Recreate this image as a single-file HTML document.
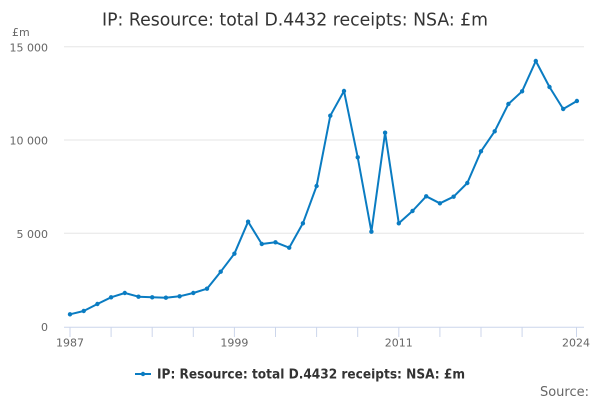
<!DOCTYPE html>
<html>
<head>
<meta charset="utf-8">
<style>
  html, body { margin: 0; padding: 0; background: #ffffff; }
  body { width: 600px; height: 400px; overflow: hidden; }
  svg { display: block; }
  text { font-family: "DejaVu Sans", "Liberation Sans", sans-serif; }
</style>
</head>
<body>
<svg width="600" height="400" viewBox="0 0 600 400" xmlns="http://www.w3.org/2000/svg">
  <rect x="0" y="0" width="600" height="400" fill="#ffffff"/>

  <!-- Title -->
  <text x="295" y="25.5" text-anchor="middle" font-size="18" fill="#333333" textLength="386" lengthAdjust="spacingAndGlyphs">IP: Resource: total D.4432 receipts: NSA: £m</text>

  <!-- Y unit -->
  <text x="12" y="36" font-size="11" fill="#666666">£m</text>

  <!-- Gridlines -->
  <g stroke="#e6e6e6" stroke-width="1">
    <line x1="64" y1="46.7" x2="584" y2="46.7"/>
    <line x1="64" y1="140" x2="584" y2="140"/>
    <line x1="64" y1="233.3" x2="584" y2="233.3"/>
  </g>

  <!-- Y labels -->
  <g font-size="11" fill="#666666" text-anchor="end">
    <text x="48" y="51.5">15 000</text>
    <text x="48" y="144.5">10 000</text>
    <text x="48" y="237.8">5 000</text>
    <text x="48" y="331">0</text>
  </g>

  <!-- X axis -->
  <line x1="64" y1="327.2" x2="584" y2="327.2" stroke="#ccd6eb" stroke-width="1"/>
  <g stroke="#ccd6eb" stroke-width="1">
    <line x1="70" y1="327" x2="70" y2="337"/>
    <line x1="111.1" y1="327" x2="111.1" y2="337"/>
    <line x1="152.2" y1="327" x2="152.2" y2="337"/>
    <line x1="193.3" y1="327" x2="193.3" y2="337"/>
    <line x1="234.4" y1="327" x2="234.4" y2="337"/>
    <line x1="275.5" y1="327" x2="275.5" y2="337"/>
    <line x1="316.6" y1="327" x2="316.6" y2="337"/>
    <line x1="357.7" y1="327" x2="357.7" y2="337"/>
    <line x1="398.8" y1="327" x2="398.8" y2="337"/>
    <line x1="439.9" y1="327" x2="439.9" y2="337"/>
    <line x1="481" y1="327" x2="481" y2="337"/>
    <line x1="522.1" y1="327" x2="522.1" y2="337"/>
    <line x1="576.5" y1="327" x2="576.5" y2="337"/>
  </g>
  <g font-size="11" fill="#666666" text-anchor="middle">
    <text x="70" y="346.5">1987</text>
    <text x="234.4" y="346.5">1999</text>
    <text x="398.8" y="346.5">2011</text>
    <text x="576" y="346.5">2024</text>
  </g>

  <!-- Series -->
  <polyline fill="none" stroke="#0a7cc2" stroke-width="2" stroke-linejoin="round" stroke-linecap="round"
    points="70,314.3 83.7,311 97.4,304 111.1,297.3 124.8,293 138.5,296.7 152.2,297.3 165.9,297.7 179.6,296.3 193.3,293 207,288.7 220.7,271.7 234.4,253.7 248.1,221.7 261.8,244 275.5,242.3 289.2,247.7 302.9,223.3 316.6,186 330.3,115.7 344,91 357.7,157.3 371.4,231.7 385.1,132.7 398.8,223.3 412.5,211 426.2,196.3 439.9,203.3 453.6,196.7 467.3,183 481,151.3 494.7,131.3 508.4,104 522.1,91.3 535.8,61 549.5,87 563.2,109 576.9,101"/>
  <g fill="#0a7cc2">
    <circle cx="70" cy="314.3" r="2.2"/>
    <circle cx="83.7" cy="311" r="2.2"/>
    <circle cx="97.4" cy="304" r="2.2"/>
    <circle cx="111.1" cy="297.3" r="2.2"/>
    <circle cx="124.8" cy="293" r="2.2"/>
    <circle cx="138.5" cy="296.7" r="2.2"/>
    <circle cx="152.2" cy="297.3" r="2.2"/>
    <circle cx="165.9" cy="297.7" r="2.2"/>
    <circle cx="179.6" cy="296.3" r="2.2"/>
    <circle cx="193.3" cy="293" r="2.2"/>
    <circle cx="207" cy="288.7" r="2.2"/>
    <circle cx="220.7" cy="271.7" r="2.2"/>
    <circle cx="234.4" cy="253.7" r="2.2"/>
    <circle cx="248.1" cy="221.7" r="2.2"/>
    <circle cx="261.8" cy="244" r="2.2"/>
    <circle cx="275.5" cy="242.3" r="2.2"/>
    <circle cx="289.2" cy="247.7" r="2.2"/>
    <circle cx="302.9" cy="223.3" r="2.2"/>
    <circle cx="316.6" cy="186" r="2.2"/>
    <circle cx="330.3" cy="115.7" r="2.2"/>
    <circle cx="344" cy="91" r="2.2"/>
    <circle cx="357.7" cy="157.3" r="2.2"/>
    <circle cx="371.4" cy="231.7" r="2.2"/>
    <circle cx="385.1" cy="132.7" r="2.2"/>
    <circle cx="398.8" cy="223.3" r="2.2"/>
    <circle cx="412.5" cy="211" r="2.2"/>
    <circle cx="426.2" cy="196.3" r="2.2"/>
    <circle cx="439.9" cy="203.3" r="2.2"/>
    <circle cx="453.6" cy="196.7" r="2.2"/>
    <circle cx="467.3" cy="183" r="2.2"/>
    <circle cx="481" cy="151.3" r="2.2"/>
    <circle cx="494.7" cy="131.3" r="2.2"/>
    <circle cx="508.4" cy="104" r="2.2"/>
    <circle cx="522.1" cy="91.3" r="2.2"/>
    <circle cx="535.8" cy="61" r="2.2"/>
    <circle cx="549.5" cy="87" r="2.2"/>
    <circle cx="563.2" cy="109" r="2.2"/>
    <circle cx="576.9" cy="101" r="2.2"/>
  </g>

  <!-- Legend -->
  <line x1="135" y1="374" x2="151" y2="374" stroke="#0a7cc2" stroke-width="2"/>
  <circle cx="143" cy="374" r="2.2" fill="#0a7cc2"/>
  <text x="157" y="378.5" font-size="13" font-weight="bold" fill="#333333" textLength="308" lengthAdjust="spacingAndGlyphs">IP: Resource: total D.4432 receipts: NSA: £m</text>

  <!-- Source -->
  <text x="589" y="396" font-size="13" fill="#666666" text-anchor="end">Source:</text>
</svg>
</body>
</html>
